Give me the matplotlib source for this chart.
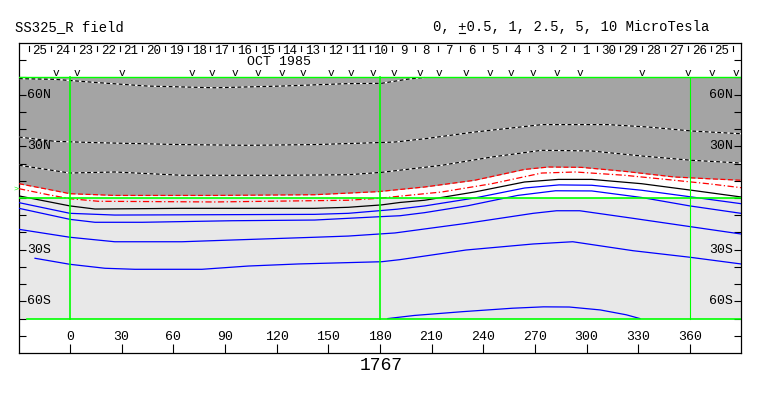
import numpy as np
import matplotlib
matplotlib.use("Agg")
import matplotlib.pyplot as plt
from matplotlib.lines import Line2D

plt.rcParams['font.family'] = ['Liberation Mono', 'DejaVu Sans Mono']

# contour lines (lon, lat), MicroTesla levels
p10_lon = [-29.6, -8.7, 16, 45, 84, 123, 161, 181, 196, 206]
p10_lat = [69.3, 68.9, 67, 65, 64, 65, 66.4, 66.6, 69, 70]

p5_lon = [-29.6, -8.7, 16.4, 65, 103.6, 142, 171, 188.7, 206, 235, 274, 312.6, 336, 361, 389.7]
p5_lat = [35.4, 32.9, 32.1, 31, 30.6, 31, 31.9, 32.5, 34.4, 38.3, 42.6, 42.6, 41.2, 38.9, 37.3]

p2_5_lon = [-29.6, 0, 26, 65, 123, 161.6, 181, 216, 245, 274, 303, 332, 361, 389.7]
p2_5_lat = [19, 14.5, 15.1, 13.2, 13.2, 13.5, 14.9, 19, 23.8, 27.7, 27.3, 24.4, 21.9, 20.3]

p1_lon = [-29.6, -12.6, 0, 26, 84, 142, 179, 206, 235, 264, 278, 297, 322, 351, 370.5, 389.7]
p1_lat = [8.3, 5, 2.5, 1.5, 1.5, 1.9, 3.7, 6.4, 10.3, 16.6, 18, 17.8, 15.5, 12.2, 11.2, 10.3]

p0_5_lon = [-29.6, -12.6, 0, 16.4, 84, 161.6, 179, 216, 245, 274, 293.6, 322, 351, 370.5, 389.7]
p0_5_lat = [5.4, 1.9, -0.4, -1.9, -2.3, -1.3, -0.2, 3.5, 8.3, 14.5, 15.1, 13.2, 10.3, 8.3, 6]

zero_lon = [-29.6, 0, 14.5, 65, 142, 161.6, 181, 191.6, 206, 235, 264, 283.6, 303, 332, 361, 389.7]
zero_lat = [1.2, -4.6, -6.4, -6, -6, -5.4, -4, -2.6, -1.3, 3.5, 9.3, 10.8, 10.8, 8.3, 4.5, 0.6]

m0_5_lon = [-29.6, 0, 26, 84, 142, 161.6, 190, 206, 235, 264, 284, 303, 332, 361, 389.7]
m0_5_lat = [-2.7, -8.9, -9.9, -9.7, -9.5, -8.9, -6.5, -4.6, 0, 5.8, 7.6, 7.4, 4.5, 0.6, -3.3]

m1_lon = [-29.6, 0, 14.5, 42, 94, 142, 181, 191.6, 206, 231, 260, 282, 303, 332, 360, 389.7]
m1_lat = [-6, -12.4, -14.1, -14.1, -13.2, -12.8, -10.8, -10.3, -8.5, -4.5, 1.5, 4.2, 4.1, 0.3, -4.6, -8.9]

m2_5_lon = [-29.6, 0, 26, 65, 94, 142, 161.6, 188.7, 230.4, 269, 282.6, 296, 327, 360, 389.7]
m2_5_lat = [-18.2, -22.8, -25.4, -25.4, -24.4, -22.8, -22.1, -20.3, -14.7, -8.9, -7.4, -7.4, -11.8, -16.6, -20.9]

m5_lon = [-20.3, 0, 20.3, 37.7, 76.6, 103.6, 132.6, 181, 191.6, 230, 269, 292, 327, 360, 389.7]
m5_lat = [-35, -38.5, -40.8, -41.4, -41.4, -39.5, -38.3, -37, -35.8, -30.2, -26.7, -25.4, -30.6, -34.4, -38.3]

m10_lon = [184.6, 200, 228, 257, 275, 290, 308, 323, 331]
m10_lat = [-70, -68.2, -66, -64, -63.2, -63.3, -65, -67.8, -70]

# header: days (Oct 25 back to Sep 25) and observation marks
day_labels = ['25', '24', '23', '22', '21', '20', '19', '18', '17', '16', '15', '14', '13',
              '12', '11', '10', '9', '8', '7', '6', '5', '4', '3', '2', '1', '30', '29',
              '28', '27', '26', '25']
obs_lon = [-8.3, 3.8, 30.2, 70.6, 82.6, 96, 109.3, 122.9, 135.5, 151.6, 163.2, 176.1,
           188.3, 203.2, 214.4, 229.8, 243.9, 256.1, 269.1, 282.7, 296.2, 332, 359, 373, 386.6]

xticks = [0, 30, 60, 90, 120, 150, 180, 210, 240, 270, 300, 330, 360]
lat_labels = {60: '60N', 30: '30N', -30: '30S', -60: '60S'}

DARK = '#a4a4a4'
LIGHT = '#e8e8e8'
GREEN = '#00ff00'

fig = plt.figure(figsize=(7.63, 3.96), dpi=100)
ax = fig.add_axes([19 / 763, 43 / 396, 722 / 763, 310 / 396])
x0, x1 = -29.6, 389.7
ax.set_xlim(x0, x1)
ax.set_ylim(-90, 90)

# background fills
ax.fill_between([x0, x1], -70, 0, color=LIGHT, lw=0, zorder=1)
ax.fill_between(p1_lon, p1_lat, 70, color=DARK, lw=0, zorder=1)

lw = 0.9
# positive levels in the gray region: black/white dashes
for lo, la in [(p10_lon, p10_lat), (p5_lon, p5_lat), (p2_5_lon, p2_5_lat)]:
    ax.plot(lo, la, color='white', lw=lw, zorder=3)
    ax.plot(lo, la, color='black', lw=lw, ls=(0, (3, 2)), zorder=3)
ax.plot(p1_lon, p1_lat, color='red', lw=lw, ls=(0, (4, 2)), zorder=3)
ax.plot(p0_5_lon, p0_5_lat, color='red', lw=lw, ls=(0, (5, 2, 1, 2)), zorder=3)
ax.plot(zero_lon, zero_lat, color='black', lw=lw, zorder=3)
for lo, la in [(m0_5_lon, m0_5_lat), (m1_lon, m1_lat), (m2_5_lon, m2_5_lat),
               (m5_lon, m5_lat), (m10_lon, m10_lat)]:
    ax.plot(lo, la, color='blue', lw=lw, zorder=3)

# green reference lines
ax.plot([x0, x1], [70, 70], color=GREEN, lw=1, zorder=4)
ax.plot([x0, x1], [0, 0], color=GREEN, lw=1.2, zorder=4)
ax.plot([-25, x1], [-70, -70], color=GREEN, lw=1.2, zorder=4)
ax.plot([0, 0], [-70, 70], color=GREEN, lw=1.2, zorder=4)
ax.plot([180, 180], [-70, 70], color=GREEN, lw=1.2, zorder=4)
ax.plot([360, 360], [-70, 70], color=GREEN, lw=0.8, zorder=4)
ax.text(-31.5, 5, '>', color=GREEN, fontsize=6, ha='center', va='center', clip_on=False)

# ticks
ax.set_xticks(xticks)
ax.set_yticks(np.arange(-80, 81, 10))
ax.tick_params(axis='x', direction='in', length=6.5, width=0.8, labelbottom=False)
ax.tick_params(axis='y', direction='in', length=5, width=0.8, left=True, right=True,
               labelleft=False)
for sp in ax.spines.values():
    sp.set_linewidth(0.9)

for v in xticks:
    ax.text(v, -80.7, str(v), ha='center', va='center', fontsize=9.5)
for la, s in lat_labels.items():
    ax.text(-25.1, la, s, ha='left', va='center', fontsize=9.5, zorder=5)
    ax.text(385, la, s, ha='right', va='center', fontsize=9.5, zorder=5)

# date strip
day_step = 13.2
first_day = -17.4
for i, d in enumerate(day_labels):
    ax.text(first_day + i * day_step, 85.5, d, ha='center', va='center', fontsize=9)
for i in range(len(day_labels) + 1):
    xs = first_day - day_step / 2 + i * day_step
    ax.plot([xs, xs], [88, 85.5], color='black', lw=0.8)
ax.text(121.4, 79, 'OCT 1985', ha='center', va='center', fontsize=9.5)
for lo in obs_lon:
    ax.text(lo, 70.6, 'v', ha='center', va='baseline', fontsize=8)

# header texts; the "+" of the level list is underlined (plus/minus)
fig.text(15 / 763, 1 - 27 / 396, 'SS325_R field', ha='left', va='center', fontsize=10)
hx = 433
fig.text(hx / 763, 1 - 27 / 396, '0, +0.5, 1, 2.5, 5, 10 MicroTesla',
         ha='left', va='center', fontsize=10)
cw = 0.6 * 10 / 72 * 100
fig.add_artist(Line2D([(hx + 3 * cw + 1) / 763, (hx + 4 * cw - 1) / 763],
                      [1 - 33 / 396, 1 - 33 / 396], color='black', lw=0.8))
fig.text(381 / 763, 1 - 366 / 396, '1767', ha='center', va='center', fontsize=13)

fig.savefig('out.png', dpi=100)
